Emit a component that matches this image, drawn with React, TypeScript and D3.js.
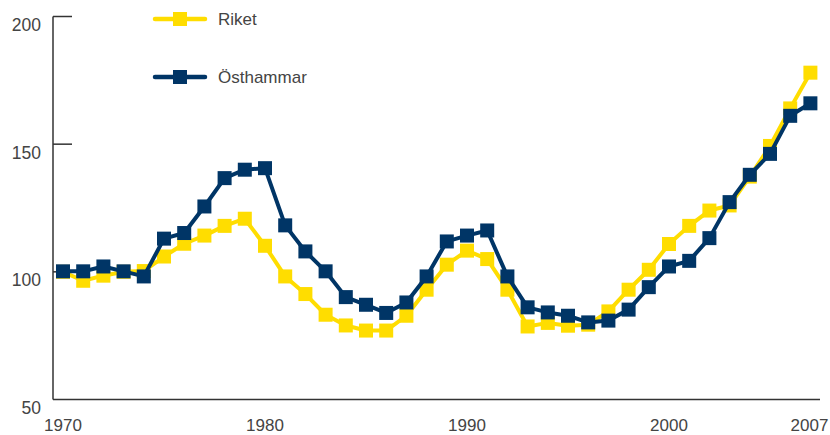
import React from 'react';
import * as d3 from 'd3';

const years = d3.range(1970, 2008);

const riket = [
    100, 96.5, 98.5, 100, 100.3, 106, 111, 114.2, 118, 120.8,
    110.2, 98.2, 91.3, 83.2, 79, 77, 77, 82.8, 93, 102.8,
    108.3, 105, 93, 78.6, 80, 78.9, 79.3, 84.5, 93, 100.8,
    110.9, 118, 124, 126, 137.3, 149.3, 164, 178,
];

const osthammar = [
    100.2, 100.2, 102.1, 100.2, 98.2, 113, 115.2, 125.6, 136.7, 140,
    140.6, 118.2, 108, 100.2, 90.1, 87.1, 83.9, 88, 98.2, 111.9,
    114.2, 116.2, 98.2, 86.1, 84.1, 82.8, 80.2, 80.9, 85.2, 94,
    102.1, 104.3, 113.2, 127.3, 138, 146.2, 161.1, 166,
];

const yTicks = [50, 100, 150, 200];
const xTicks = [1970, 1980, 1990, 2000, 2007];

const series = [
    { name: 'Riket', values: riket, color: '#ffdd00' },
    { name: 'Östhammar', values: osthammar, color: '#003566' },
];

const width = 830;
const height = 435;
const font = '"Liberation Sans", Arial, sans-serif';
const textColor = '#444';

const App = () => {
    const x = d3.scaleLinear().domain([1970, 2007]).range([63, 810.4]);
    const y = d3.scaleLinear().domain([50, 200]).range([399.5, 16.5]);

    const line = d3
        .line<number>()
        .x((_, i) => x(years[i]))
        .y((d) => y(d));

    const size = 14;

    return (
        <svg
            width={width}
            height={height}
            style={{ position: 'absolute', left: 0, top: 0 }}
        >
            {/* axes */}
            <line x1={53} x2={53} y1={y(200)} y2={y(50)} stroke="#333" strokeWidth={1.5} />
            <line x1={53} x2={820} y1={y(50)} y2={y(50)} stroke="#333" strokeWidth={1.5} />
            {yTicks
                .filter((t) => t > 50)
                .map((t) => (
                    <line key={t} x1={53} x2={72} y1={y(t)} y2={y(t)} stroke="#333" strokeWidth={1.5} />
                ))}
            {yTicks.map((t) => (
                <text
                    key={t}
                    x={41}
                    y={y(t) + 14.5}
                    textAnchor="end"
                    fontFamily={font}
                    fontSize={17.5}
                    fill={textColor}
                >
                    {t}
                </text>
            ))}
            {xTicks.map((t) => (
                <text
                    key={t}
                    x={Math.min(x(t), 809.5)}
                    y={431}
                    textAnchor="middle"
                    fontFamily={font}
                    fontSize={17}
                    fill={textColor}
                >
                    {t}
                </text>
            ))}

            {/* series */}
            {series.map((s) => (
                <g key={s.name}>
                    <path
                        d={line(s.values) ?? ''}
                        fill="none"
                        stroke={s.color}
                        strokeWidth={4}
                        strokeLinejoin="round"
                    />
                    {s.values.map((v, i) => (
                        <rect
                            key={i}
                            x={x(years[i]) - size / 2}
                            y={y(v) - size / 2}
                            width={size}
                            height={size}
                            fill={s.color}
                        />
                    ))}
                </g>
            ))}

            {/* legend */}
            {series.map((s, i) => {
                const ly = 19 + i * 58;
                return (
                    <g key={s.name}>
                        <line
                            x1={155}
                            x2={205}
                            y1={ly}
                            y2={ly}
                            stroke={s.color}
                            strokeWidth={4.5}
                            strokeLinecap="round"
                        />
                        <rect x={180 - size / 2} y={ly - size / 2} width={size} height={size} fill={s.color} />
                        <text
                            x={218}
                            y={ly + 6}
                            fontFamily={font}
                            fontSize={17}
                            fill={textColor}
                        >
                            {s.name}
                        </text>
                    </g>
                );
            })}
        </svg>
    );
};

export default App;
